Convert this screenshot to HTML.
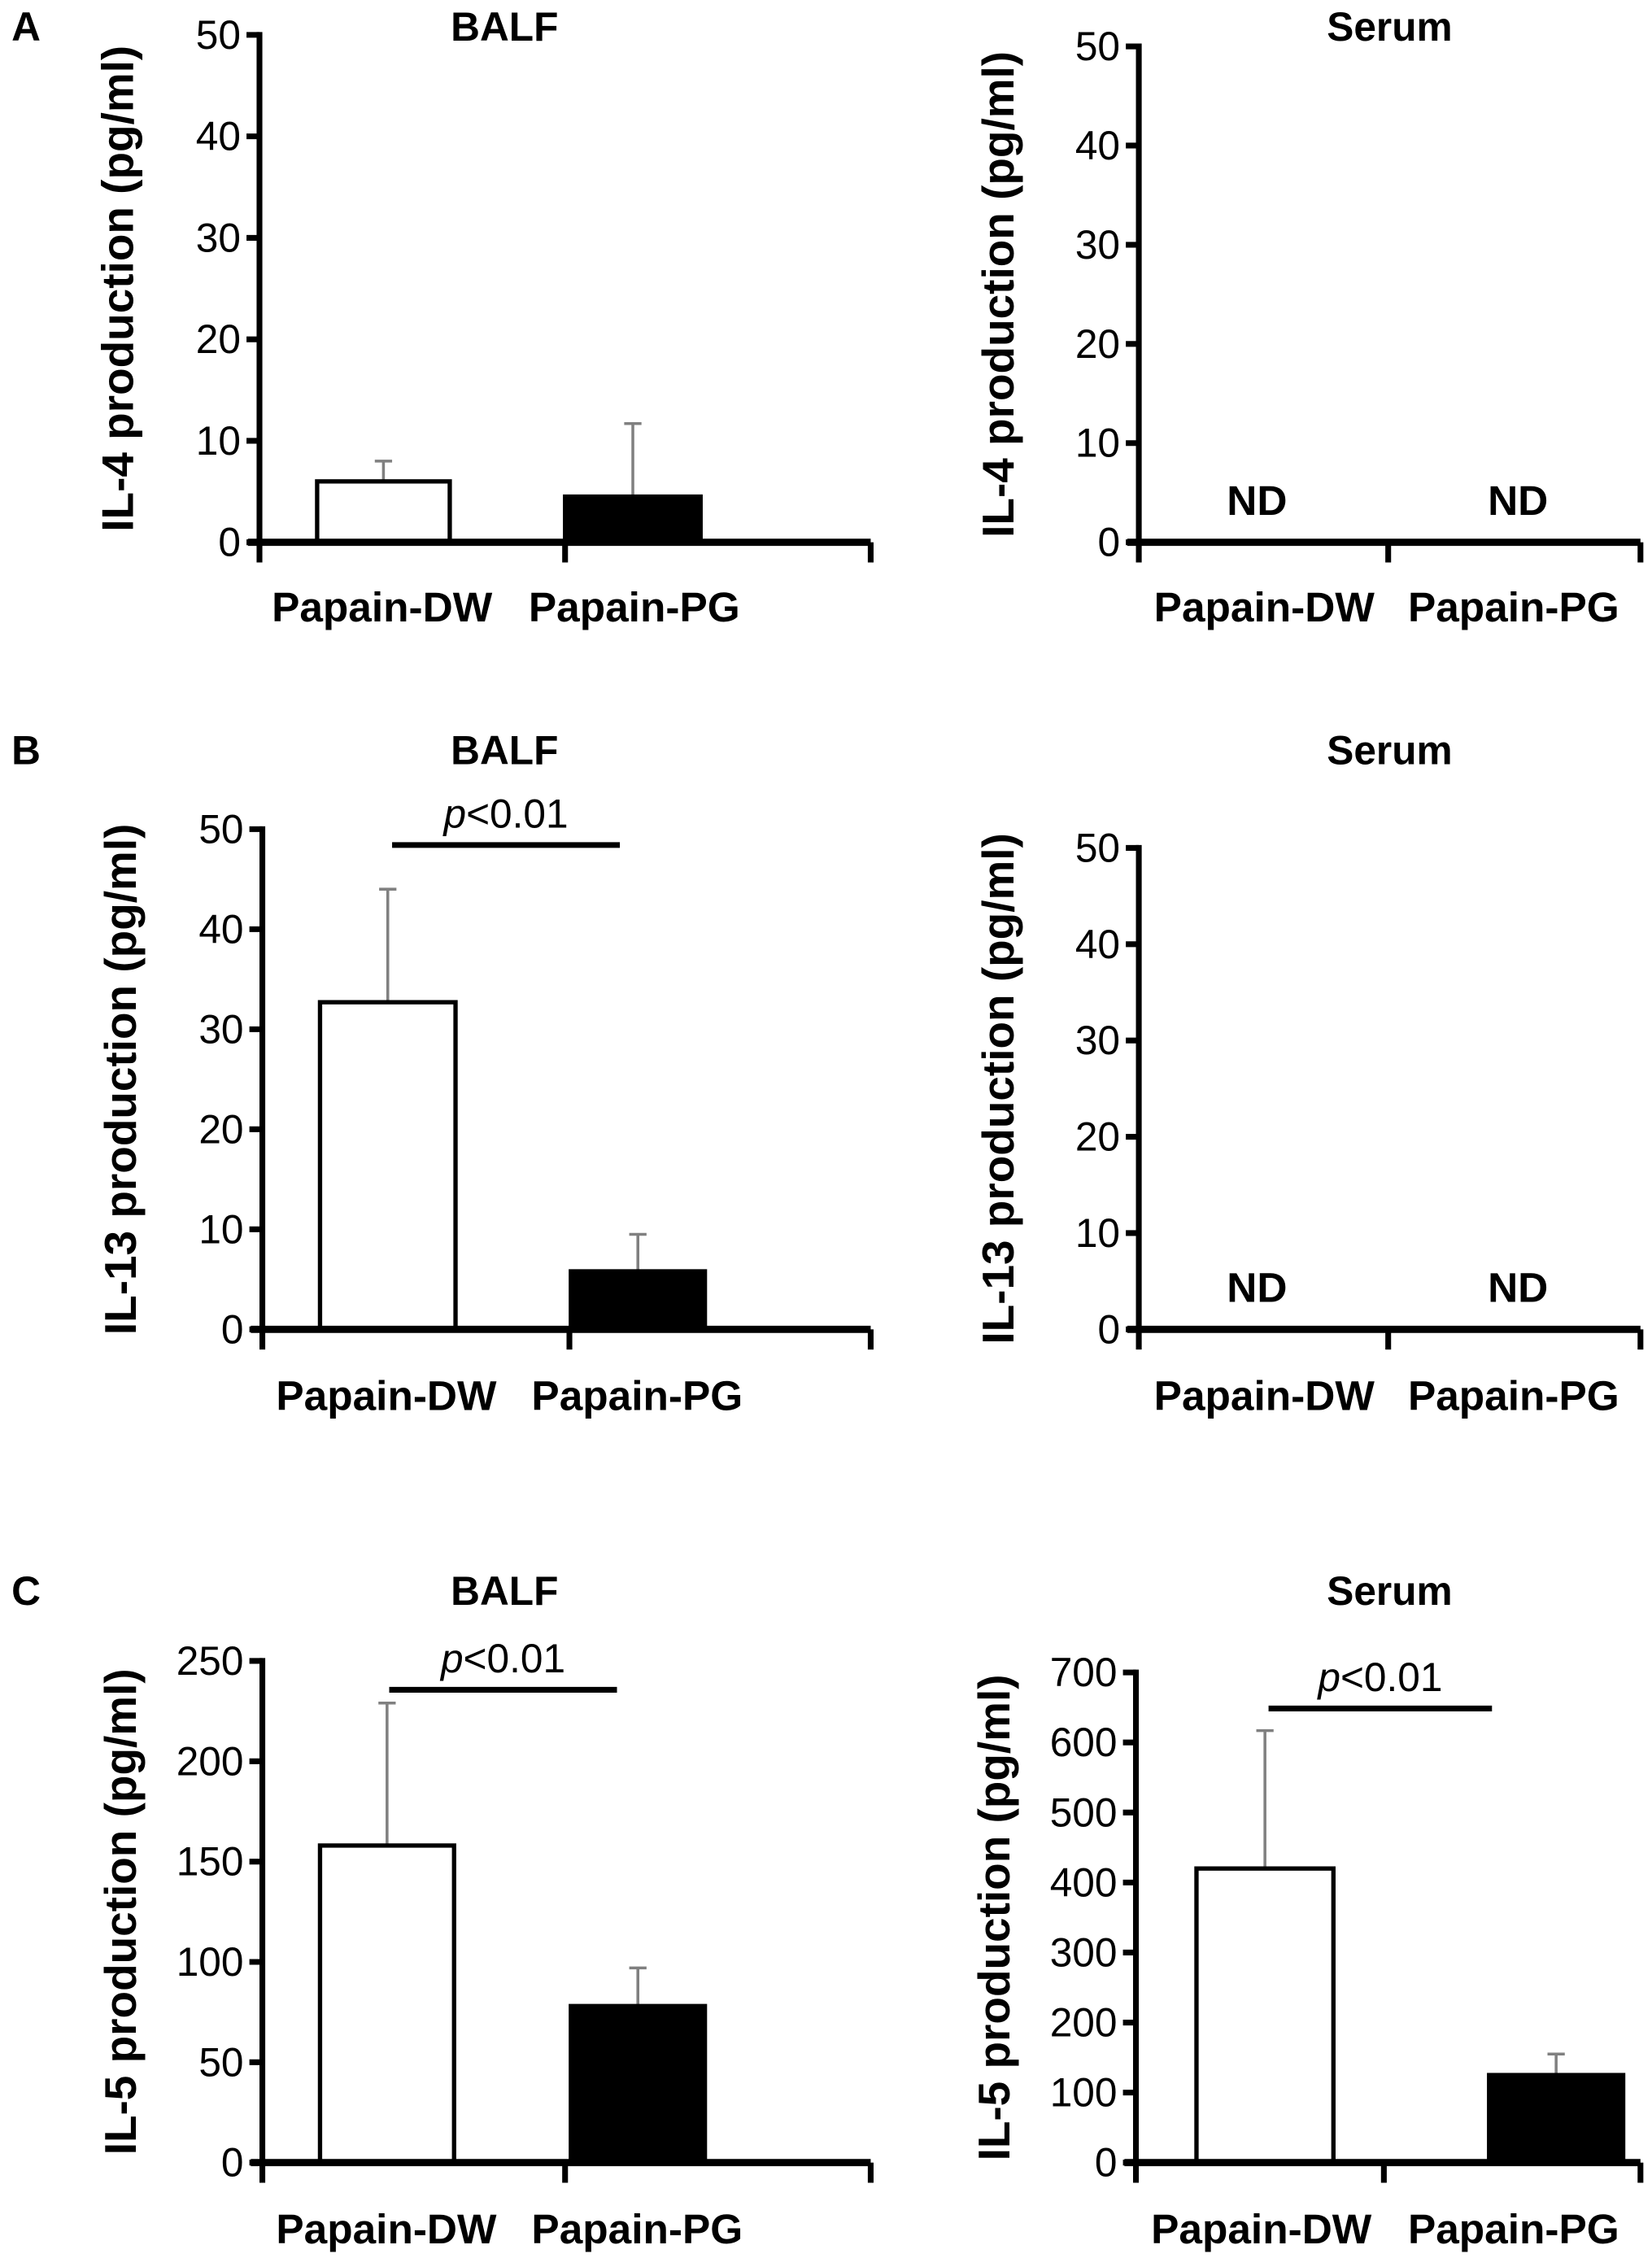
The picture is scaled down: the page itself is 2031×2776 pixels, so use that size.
<!DOCTYPE html>
<html><head><meta charset="utf-8"><style>
html,body{margin:0;padding:0;background:#fff;}
svg{display:block;}
text{font-family:"Liberation Sans",sans-serif;}
</style></head><body>
<svg id="fig" width="2031" height="2776" viewBox="0 0 1146 1566" xmlns="http://www.w3.org/2000/svg"></svg>
<script>
const categories = ["Papain-DW", "Papain-PG"];
// panel values
const aBalfValues = [6, 4.5];
const aBalfErrors = [8, 11.7];
const aSerumValues = [null, null];
const bBalfValues = [32.7, 5.8];
const bBalfErrors = [44, 9.5];
const bSerumValues = [null, null];
const cBalfValues = [158, 78];
const cBalfErrors = [229, 97];
const cSerumValues = [420, 125];
const cSerumErrors = [617, 155];
const ticks50 = [0, 10, 20, 30, 40, 50];
const ticks250 = [0, 50, 100, 150, 200, 250];
const ticks700 = [0, 100, 200, 300, 400, 500, 600, 700];

const svg = document.getElementById('fig');
const NS = 'http://www.w3.org/2000/svg';
function el(tag, attrs, parent) {
  const e = document.createElementNS(NS, tag);
  for (const k in attrs) e.setAttribute(k, attrs[k]);
  (parent || svg).appendChild(e);
  return e;
}

const panels = [
  {id:'a-balf', ax:180, top:24, bottom:376, right:604, mid:392, max:50, ticks:ticks50, vals:aBalfValues, errs:aBalfErrors, bars:[[220,312],[392,486]], title:'BALF', tx:350, ty:28, ylab:'IL-4 production (pg/ml)', ylx:84, letter:'A', ly:28, labY:431, labX:[265,440]},
  {id:'a-serum', ax:790, top:32, bottom:376, right:1138, mid:963, max:50, ticks:ticks50, vals:aSerumValues, errs:null, nd:true, ndX:[872,1053], title:'Serum', tx:964, ty:28, ylab:'IL-4 production (pg/ml)', ylx:695, labY:431, ndY:357, labX:[877,1050]},
  {id:'b-balf', ax:182, top:575, bottom:922, right:604, mid:395, max:50, ticks:ticks50, vals:bBalfValues, errs:bBalfErrors, bars:[[222,316],[396,489]], title:'BALF', tx:350, ty:530, ylab:'IL-13 production (pg/ml)', ylx:86, letter:'B', ly:530, labY:978, labX:[268,442], p:[272,430,586]},
  {id:'b-serum', ax:790, top:588, bottom:922, right:1138, mid:963, max:50, ticks:ticks50, vals:bSerumValues, errs:null, nd:true, ndX:[872,1053], title:'Serum', tx:964, ty:530, ylab:'IL-13 production (pg/ml)', ylx:695, labY:978, ndY:903, labX:[877,1050]},
  {id:'c-balf', ax:182, top:1152, bottom:1500, right:604, mid:392, max:250, ticks:ticks250, vals:cBalfValues, errs:cBalfErrors, bars:[[222,315],[396,489]], title:'BALF', tx:350, ty:1113, ylab:'IL-5 production (pg/ml)', ylx:86, letter:'C', ly:1113, labY:1556, labX:[268,442], p:[270,428,1172]},
  {id:'c-serum', ax:788, top:1160, bottom:1500, right:1138, mid:960, max:700, ticks:ticks700, vals:cSerumValues, errs:cSerumErrors, bars:[[830,925],[1033,1126]], title:'Serum', tx:964, ty:1113, ylab:'IL-5 production (pg/ml)', ylx:692, labY:1556, labX:[875,1050], p:[880,1035,1185]}
];

panels.forEach(P => {
  const g = el('g', {});
  
  
  const y = v => P.bottom - (v / P.max) * (P.bottom - P.top);
  const t = el('text', {x:P.tx, y:P.ty, 'text-anchor':'middle', 'font-size':28, 'font-weight':'bold'}, g);
  t.textContent = P.title;
  
  
  if (P.letter) {
    const l = el('text', {x:8, y:P.ly, 'font-size':28, 'font-weight':'bold'}, g);
    l.textContent = P.letter;
    
    
  }
  const cy = (P.top + P.bottom) / 2;
  const yl = el('text', {x:P.ylx, y:cy, 'text-anchor':'middle', 'font-size':31, 'font-weight':'bold', transform:`rotate(-90 ${P.ylx} ${cy})`, 'dominant-baseline':'middle'}, g);
  yl.textContent = P.ylab;
  
  
  if (P.bars) {
    P.vals.forEach((v, i) => {
      const [x0, x1] = P.bars[i];
      if (P.errs) {
        const eline = el('line', {x1:(x0+x1)/2, x2:(x0+x1)/2, y1:y(v), y2:y(P.errs[i]), stroke:'#808080', 'stroke-width':2}, g);
        
        
        const cap = el('line', {x1:(x0+x1)/2 - 6, x2:(x0+x1)/2 + 6, y1:y(P.errs[i]), y2:y(P.errs[i]), stroke:'#808080', 'stroke-width':2}, g);
        
        
      }
      const r = el('rect', {x:x0, y:y(v), width:x1-x0, height:P.bottom - y(v), fill: i === 0 ? '#fff' : '#000', stroke:'#000', 'stroke-width':3}, g);
      
      
    });
  }
  if (P.nd) {
    P.ndX.forEach((cx, i) => {
      const n = el('text', {x:cx, y:P.ndY, 'text-anchor':'middle', 'font-size':29, 'font-weight':'bold'}, g);
      n.textContent = 'ND';
      
      
    });
  }
  const ya = el('line', {x1:P.ax, x2:P.ax, y1:P.top - 2, y2:P.bottom + 14, stroke:'#000', 'stroke-width':4}, g);
  
  
  const xa = el('line', {x1:P.ax - 8, x2:P.right, y1:P.bottom, y2:P.bottom, stroke:'#000', 'stroke-width':5}, g);
  
  
  [P.mid, P.right].forEach(tx => {
    const tk = el('line', {x1:tx, x2:tx, y1:P.bottom, y2:P.bottom + 14, stroke:'#000', 'stroke-width':4}, g);
    
    
  });
  P.ticks.forEach(v => {
    const tk = el('line', {x1:P.ax - 9, x2:P.ax, y1:y(v), y2:y(v), stroke:'#000', 'stroke-width':4}, g);
    
    
    const tl = el('text', {x:P.ax - 13, y:y(v), 'text-anchor':'end', 'dominant-baseline':'central', 'font-size':28}, g);
    tl.textContent = v;
    
    
  });
  P.labX.forEach((cx, i) => {
    const c = el('text', {x:cx, y:P.labY, 'text-anchor':'middle', 'font-size':29, 'font-weight':'bold'}, g);
    c.textContent = categories[i];
    
    
  });
  if (P.p) {
    const pl = el('line', {x1:P.p[0], x2:P.p[1], y1:P.p[2], y2:P.p[2], stroke:'#000', 'stroke-width':4}, g);
    
    
    const pt = el('text', {x:(P.p[0] + P.p[1]) / 2, y:P.p[2] - 12, 'text-anchor':'middle', 'font-size':28}, g);
    pt.innerHTML = '<tspan font-style="italic">p</tspan>&lt;0.01';
    
    
  }
});
</script>
</body></html>
